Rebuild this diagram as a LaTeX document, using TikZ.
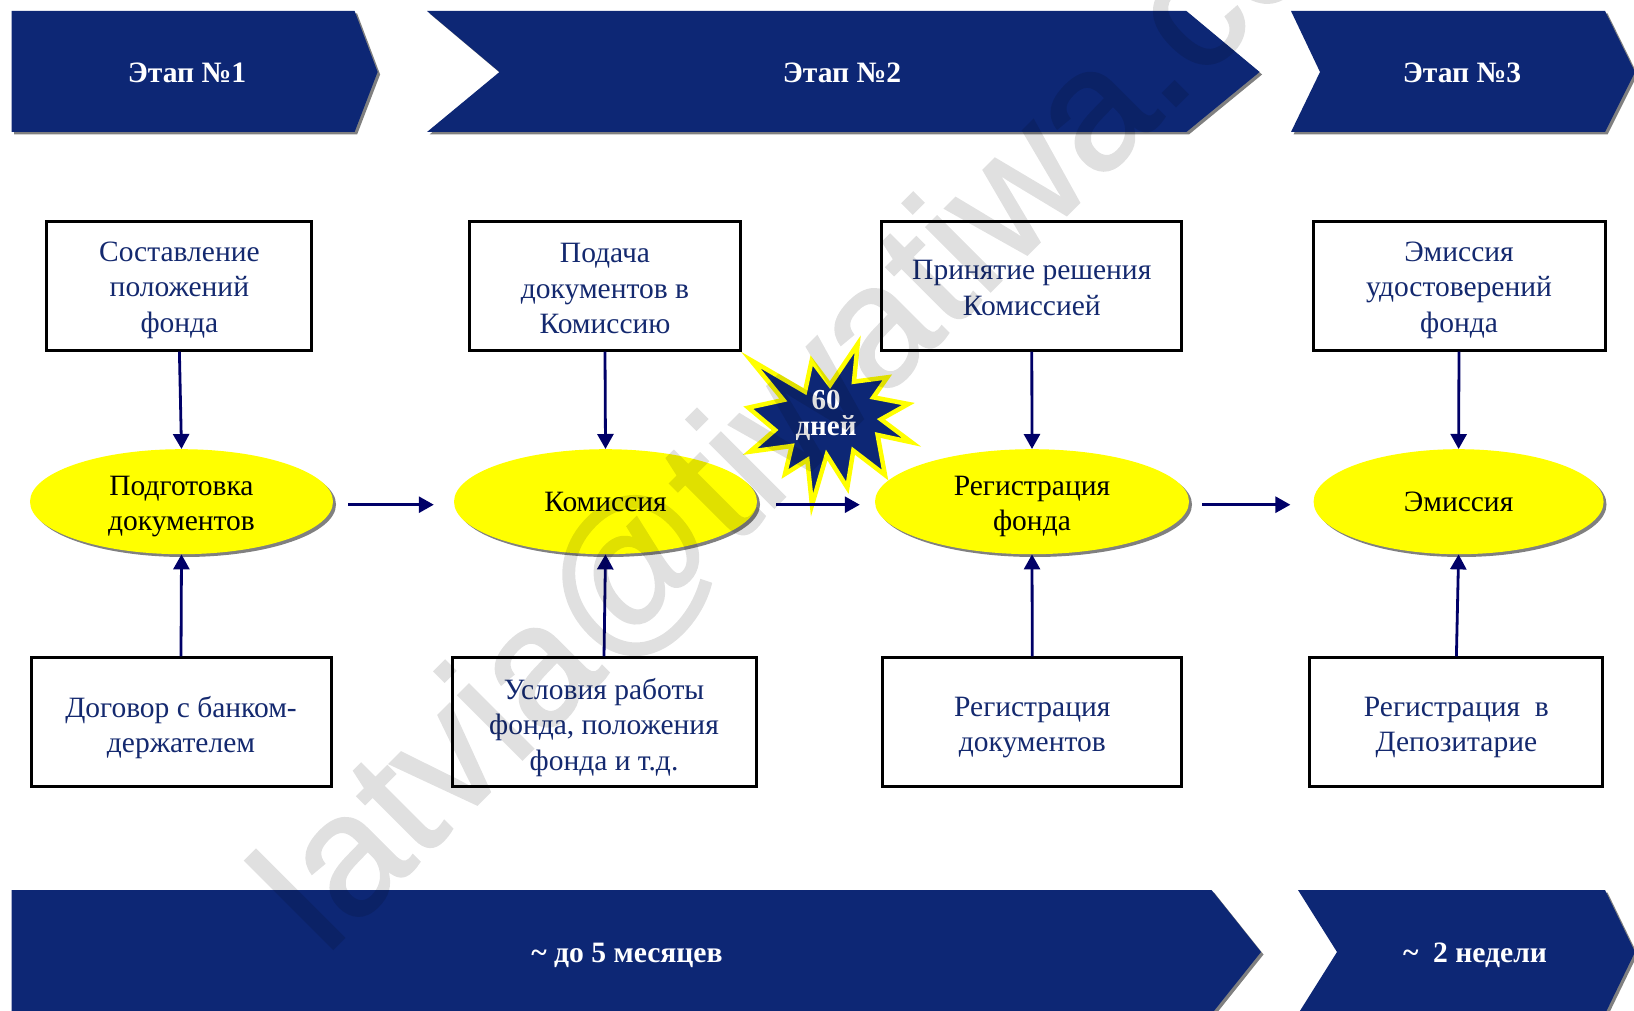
\documentclass[tikz,border=0pt]{standalone}
\usepackage{fontspec}
\setmainfont{Liberation Serif}
\newfontfamily\wmfont[FakeBold=1.2]{Liberation Sans}
\usetikzlibrary{arrows.meta,shapes.geometric}
\definecolor{bannerblue}{HTML}{0D2775}
\definecolor{boxtext}{HTML}{14296F}
\definecolor{arrownavy}{HTML}{000068}
\definecolor{shadowgray}{HTML}{808080}
\definecolor{hubyellow}{RGB}{255,255,0}
\tikzset{
  banner/.style={fill=bannerblue,draw=none},
  bannershadow/.style={fill=shadowgray,draw=none,shift={(2.5,2.5)}},
  bannertext/.style={text=white,font=\fontsize{29.6}{35}\selectfont\bfseries,inner sep=0pt},
  infobox/.style={draw=black,line width=3pt,fill=white,minimum width=#1,minimum height=128.7pt,inner sep=0pt},
  boxlabel/.style={align=center,text=boxtext,inner sep=0pt,font=\fontsize{29.5}{35.4}\selectfont},
  hub/.style={ellipse,fill=hubyellow,draw=none,minimum width=#1,minimum height=105pt,inner sep=0pt},
  hublabel/.style={align=center,text=black,inner sep=0pt,font=\fontsize{29.5}{35.4}\selectfont},
  hubshadow/.style={ellipse,fill=shadowgray,draw=none,minimum width=#1,minimum height=105pt,inner sep=0pt},
  link/.style={draw=arrownavy,line width=2.8pt,-{Triangle[length=15pt,width=16pt]}},
}
\begin{document}
\begin{tikzpicture}[x=1pt,y=-1pt]
\useasboundingbox (0,0) rectangle (1634,1011);
\clip (0,0) rectangle (1634,1011);
\fill[white] (0,0) rectangle (1634,1011);
% top banners
\fill[bannershadow] (11.5,11)--(354.6,11)--(377.6,72)--(354.6,132)--(11.5,132)--cycle;
\fill[banner] (11.5,11)--(354.6,11)--(377.6,72)--(354.6,132)--(11.5,132)--cycle;
\fill[bannershadow] (427,11)--(1186.4,11)--(1259.6,72)--(1186.4,132)--(427,132)--(499.5,72)--cycle;
\fill[banner] (427,11)--(1186.4,11)--(1259.6,72)--(1186.4,132)--(427,132)--(499.5,72)--cycle;
\fill[bannershadow] (1291,11)--(1605,11)--(1635,72)--(1605,132)--(1291,132)--(1320,72)--cycle;
\fill[banner] (1291,11)--(1605,11)--(1635,72)--(1605,132)--(1291,132)--(1320,72)--cycle;
\node[bannertext] (t1) at (187,73) {Этап №1};
\node[bannertext] (t2) at (842,73) {Этап №2};
\node[bannertext] (t3) at (1462,73) {Этап №3};
% bottom banners
\fill[bannershadow] (11.5,890)--(1211.5,890)--(1261,952)--(1211.5,1014)--(11.5,1014)--cycle;
\fill[banner] (11.5,890)--(1211.5,890)--(1261,952)--(1211.5,1014)--(11.5,1014)--cycle;
\fill[bannershadow] (1298,890)--(1605,890)--(1635,952)--(1605,1014)--(1298,1014)--(1337,952)--cycle;
\fill[banner] (1298,890)--(1605,890)--(1635,952)--(1605,1014)--(1298,1014)--(1337,952)--cycle;
\node[bannertext] (t4) at (627,955) {\~{} до 5 месяцев};
\node[bannertext] (t5) at (1475,955) {\~{}\ \ 2 недели};
% top boxes
\node[infobox=265pt,label={[boxlabel,yshift=-4.5pt]center:Составление\\положений\\фонда}] (a1) at (179.4,285.8) {};
\node[infobox=271pt,label={[boxlabel,yshift=-3pt]center:Подача\\документов в\\Комиссию}] (a2) at (605,285.8) {};
\node[infobox=300pt,label={[boxlabel,yshift=-2.2pt]center:Принятие решения\\Комиссией}] (a3) at (1031.8,285.8) {};
\node[infobox=292pt,label={[boxlabel,yshift=-4.5pt]center:Эмиссия\\удостоверений\\фонда}] (a4) at (1459,285.8) {};
% bottom boxes
\node[infobox=300pt,label={[boxlabel,yshift=-5pt]center:Договор с банком-\\держателем}] (c1) at (181,722.3) {};
\node[infobox=304pt,label={[boxlabel,yshift=-5pt]center:Условия работы\\фонда, положения\\фонда и т.д.}] (c2) at (604,722.3) {};
\node[infobox=299pt,label={[boxlabel,yshift=-5pt]center:Регистрация\\документов}] (c3) at (1032.3,722.3) {};
\node[infobox=293pt,label={[boxlabel,yshift=-5pt]center:Регистрация\ \ в\\Депозитарие}] (c4) at (1456.4,722.3) {};
% star
\coordinate (sc) at (826,415.5);
\begin{scope}[shift={(730,320)},x=0.3333pt,y=-0.3333pt]
\filldraw[fill=bannerblue,draw=hubyellow,line width=4.5pt,miter limit=10]
 (62,120)--(225,215)--(245,122)--(300,195)--(383,72)--(372,185)--(472,172)--(430,232)--(535,252)--(453,298)--(545,367)--(443,345)--(465,465)--(370,392)--(352,503)--(290,405)--(246,555)--(232,420)--(165,462)--(185,378)--(60,395)--(135,330)--(55,263)--(160,240)--cycle;
\end{scope}
\node[text=white,font=\fontsize{29}{25.5}\selectfont\bfseries,align=center,inner sep=0pt] (star) at (sc) {60\\дней};
% hubs
\node[hubshadow=303pt] at (184.5,504.5) {};
\node[hubshadow=303pt] at (608.5,504.5) {};
\node[hubshadow=314pt] at (1035,504.5) {};
\node[hubshadow=290pt] at (1461.5,504.5) {};
\node[hub=303pt,label={[hublabel,yshift=-5pt]center:Подготовка\\документов}] (e1) at (181.5,501.7) {};
\node[hub=303pt,label={[hublabel,yshift=-0.5pt]center:Комиссия}] (e2) at (605.5,501.7) {};
\node[hub=314pt,label={[hublabel,yshift=-5pt]center:Регистрация\\фонда}] (e3) at (1032,501.7) {};
\node[hub=290pt,label={[hublabel,yshift=-0.5pt]center:Эмиссия}] (e4) at (1458.6,501.7) {};
% arrows
\draw[link] (a1.south) -- (e1.north);
\draw[link] (a2.south) -- (e2.north);
\draw[link] (a3.south) -- (e3.north);
\draw[link] (a4.south) -- (e4.north);
\draw[link] (c1.north) -- (e1.south);
\draw[link] (c2.north) -- (e2.south);
\draw[link] (c3.north) -- (e3.south);
\draw[link] (c4.north) -- (e4.south);
\draw[link,shorten <=15pt,shorten >=20pt] ([yshift=-3pt]e1.east) -- ([yshift=-3pt]e2.west);
\draw[link,shorten <=19pt,shorten >=15pt] ([yshift=-3pt]e2.east) -- ([yshift=-3pt]e3.west);
\draw[link,shorten <=13pt,shorten >=23pt] ([yshift=-3pt]e3.east) -- ([yshift=-3pt]e4.west);
% watermark
\begin{scope}[transparency group,opacity=0.12]
\node[anchor=base west,rotate=45,inner sep=0pt,text=black,font=\wmfont\fontsize{172}{172}\selectfont] (wm) at (325,957) {latvia@tiwatiwa.co};
\end{scope}
\end{tikzpicture}
\end{document}
